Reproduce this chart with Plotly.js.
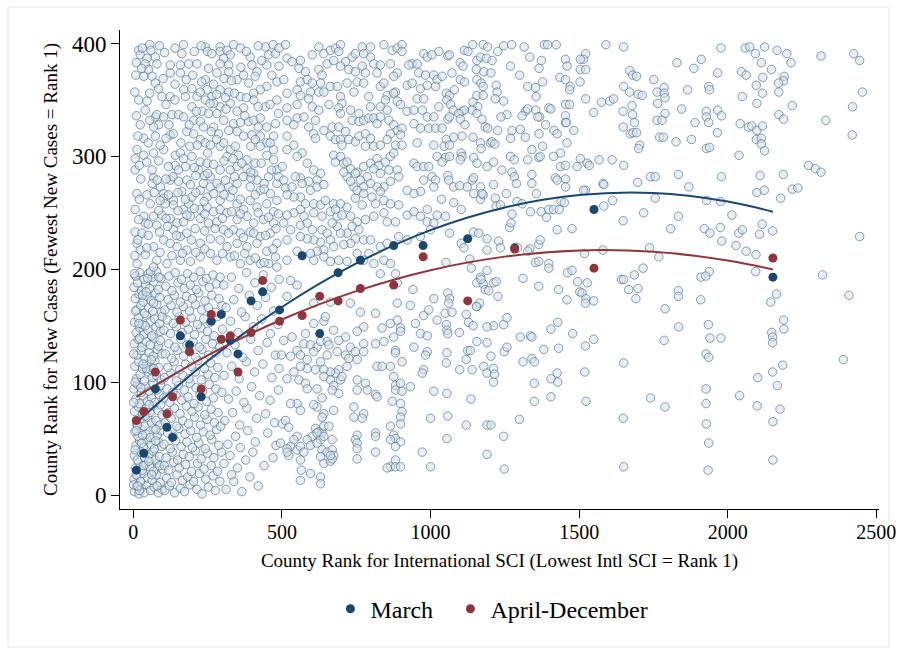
<!DOCTYPE html>
<html><head><meta charset="utf-8">
<script src="https://cdn.plot.ly/plotly-3.0.1.min.js"></script>
<style>html,body{margin:0;padding:0;background:#fff}#chart{width:897px;height:654px}</style>
</head><body><div id="chart"></div>
<script>
// County points: [international SCI rank, new-cases rank]
const countiesEast = [[1977,396],[2059,396],[2074,397],[2124,397],[2166,394],[2199,391],[2213,383],[2314,389],[2424,391],[2444,385],[1829,383],[1911,386],[1886,378],[1966,374],[2046,375],[2062,372],[2093,391],[2113,383],[2147,377],[2190,371],[2188,367],[2171,365],[2118,370],[2096,363],[2117,356],[2172,357],[2098,347],[2049,353],[2217,345],[1786,361],[1786,356],[1789,352],[1865,359],[1936,362],[1939,359],[2453,357],[2420,344],[2330,332],[2419,319],[1789,338],[1845,342],[1928,340],[1928,335],[1936,330],[1966,341],[1979,336],[1890,330],[1779,332],[2042,329],[2070,326],[2081,327],[2098,323],[2117,327],[2172,337],[2188,333],[1965,321],[1783,317],[1826,313],[1878,315],[1928,307],[1939,308],[2096,315],[2113,316],[2113,311],[2124,305],[2038,301],[2272,292],[2295,289],[2314,286],[1834,284],[1979,282],[2109,283],[2187,284],[1869,273],[2098,268],[2123,270],[2178,263],[2217,271],[2236,272],[1929,261],[1976,260],[1834,247],[2014,248],[1808,236],[1921,236],[1940,232],[1975,237],[1980,225],[2028,221],[2037,232],[2049,235],[2062,216],[2095,213],[2107,231],[2116,240],[2151,234],[2444,229],[2094,198],[1938,198],[1910,193],[1926,194],[2319,195],[1834,181],[1834,176],[1909,173],[2164,178],[2145,171],[2408,177],[1789,165],[1835,149],[1935,151],[1940,139],[1977,139],[1786,137],[2188,155],[2189,147],[2148,144],[2151,140],[2151,135],[1927,125],[1936,122],[2389,120],[2185,115],[2151,109],[2101,104],[2167,97],[1927,94],[2040,88],[1789,78],[1927,81],[2099,79],[2176,76],[2152,65],[1928,63],[1936,46],[2152,31],[1934,22]];
const countiesMidHigh = [[1142,399],[1177,399],[1192,397],[1246,398],[1273,399],[1315,397],[1383,399],[1394,399],[1423,399],[1590,399],[1650,397],[1114,394],[1126,393],[1058,389],[1064,390],[1156,385],[1168,388],[1188,387],[1207,385],[1226,393],[1334,388],[1373,385],[1454,386],[1459,380],[1522,391],[1515,386],[1504,386],[1100,383],[1109,380],[1154,377],[1179,375],[1203,374],[1072,374],[1269,380],[1300,372],[1365,378],[1504,377],[1522,377],[1670,376],[1680,372],[1693,371],[1039,371],[1100,368],[1114,366],[1156,368],[1170,365],[1177,362],[1221,363],[1224,357],[1246,349],[1327,362],[1353,361],[1377,366],[1435,370],[1454,368],[1470,362],[1468,359],[1503,366],[1650,362],[1670,357],[1699,355],[1712,354],[1751,368],[1762,357],[1053,356],[1064,354],[1055,350],[1080,359],[1156,354],[1177,354],[1218,351],[1355,353],[1522,351],[1575,348],[1603,349],[1616,351],[1678,345],[1764,347],[1067,346],[1076,341],[1143,348],[1159,344],[1140,341],[1106,340],[1114,341],[1319,340],[1327,342],[1354,341],[1367,335],[1398,343],[1405,342],[1455,346],[1468,346],[1454,336],[1454,330],[1549,339],[1648,340],[1680,337],[1686,330],[1762,332],[1058,333],[1064,335],[1095,338],[1100,333],[1116,328],[1156,338],[1173,333],[1184,326],[1192,325],[1257,337],[1237,335],[1308,336],[1361,335],[1387,328],[1415,323],[1426,320],[1457,330],[1648,326],[1672,320],[1681,321],[1693,321],[1704,310],[1700,307],[1771,317],[1039,325],[1053,315],[1078,317],[1106,318],[1143,317],[1168,312],[1170,307],[1201,312],[1207,313],[1216,311],[1226,323],[1269,316],[1274,323],[1302,324],[1319,317],[1365,320],[1377,309],[1437,303],[1459,312],[1482,323],[1046,309],[1064,310],[1103,303],[1106,300],[1050,299],[1064,300],[1039,295],[1100,297],[1145,299],[1156,294],[1190,291],[1212,295],[1240,288],[1269,300],[1282,297],[1327,297],[1341,306],[1364,299],[1369,300],[1414,300],[1437,291],[1454,292],[1493,291],[1504,298],[1527,294],[1534,292],[1567,297],[1611,297],[1650,292],[1697,277],[1740,282],[1756,282],[1058,283],[1061,279],[1078,273],[1123,273],[1098,274],[1140,279],[1145,281],[1168,273],[1173,267],[1145,267],[1212,275],[1255,267],[1274,286],[1282,282],[1289,276],[1341,284],[1341,276],[1356,267],[1420,281],[1426,279],[1454,280],[1454,273],[1515,270],[1580,276],[1583,275]];
const countiesMidLow = [[1037,262],[1078,259],[1103,253],[1168,262],[1177,266],[1218,263],[1221,256],[1235,257],[1291,260],[1308,258],[1336,251],[1372,251],[1390,246],[1398,253],[1414,253],[1433,253],[1439,260],[1450,259],[1521,270],[1583,256],[1612,261],[1648,243],[1717,250],[1756,263],[1050,247],[1064,232],[1103,223],[1112,219],[1145,233],[1162,232],[1190,227],[1190,217],[1229,225],[1235,219],[1266,237],[1271,241],[1274,249],[1293,219],[1334,218],[1364,222],[1369,226],[1398,205],[1426,235],[1476,236],[1518,214],[1580,217],[1737,219],[1768,211],[1052,206],[1132,209],[1137,201],[1190,199],[1168,193],[1156,188],[1177,187],[1170,191],[1212,188],[1221,189],[1184,182],[1196,181],[1311,192],[1327,216],[1353,206],[1364,207],[1398,201],[1461,197],[1476,199],[1495,189],[1502,180],[1510,179],[1527,188],[1523,174],[1521,170],[1549,172],[1459,173],[1431,182],[1364,185],[1227,176],[1058,179],[1064,174],[1061,170],[1049,161],[1072,162],[1120,160],[1128,153],[1143,150],[1156,167],[1165,170],[1154,167],[1212,150],[1246,151],[1257,157],[1190,149],[1642,191],[1650,191],[1686,195],[1715,201],[1667,182],[1691,174],[1698,183],[1053,151],[1055,146],[1058,143],[1097,144],[1125,128],[1134,128],[1120,120],[1140,111],[1156,136],[1190,135],[1203,123],[1179,114],[1190,108],[1212,112],[1215,107],[1212,100],[1248,127],[1257,131],[1302,140],[1336,141],[1341,140],[1311,118],[1341,121],[1349,118],[1381,129],[1405,147],[1428,153],[1431,130],[1426,108],[1428,100],[1405,103],[1349,99],[1349,83],[1405,87],[1478,143],[1521,132],[1549,138],[1519,109],[1523,83],[1650,117],[1648,68],[1740,86],[1055,126],[1053,117],[1098,111],[1055,90],[1136,85],[1058,70],[1120,62],[1190,62],[1203,62],[1246,52],[1299,67],[1055,50],[1190,36],[1248,23],[1650,25]];
const countiesCentralLow = [[529,190],[551,186],[517,176],[607,170],[663,171],[730,170],[764,162],[815,161],[831,196],[882,196],[888,188],[941,182],[932,168],[888,170],[977,159],[994,164],[1011,174],[1022,155],[888,155],[865,152],[899,148],[899,145],[837,148],[876,140],[966,143],[989,141],[949,152],[775,149],[753,145],[714,140],[674,146],[641,154],[646,158],[607,152],[579,143],[534,140],[506,137],[551,128],[574,134],[596,133],[618,131],[630,136],[652,136],[658,133],[691,137],[730,131],[747,127],[775,127],[775,134],[815,134],[843,136],[882,128],[882,126],[904,118],[944,131],[989,127],[983,124],[498,124],[529,123],[562,124],[585,120],[607,127],[630,118],[652,124],[686,127],[714,124],[725,121],[753,120],[719,114],[691,111],[680,108],[663,109],[641,111],[613,111],[585,112],[562,114],[540,109],[517,103],[557,102],[579,99],[585,94],[618,94],[641,105],[663,102],[674,97],[697,102],[702,105],[691,90],[669,93],[635,86],[618,78],[551,81],[529,81],[562,75],[607,80],[641,72],[635,69],[674,75],[742,78],[753,102],[781,99],[787,93],[820,114],[837,114],[865,114],[876,105],[882,97],[882,93],[904,92],[899,99],[932,96],[977,111],[972,108],[1011,92],[753,93],[815,89],[820,87],[742,69],[775,72],[770,68],[871,83],[899,81],[904,74],[899,69],[899,63],[865,61],[876,53],[882,50],[899,47],[815,55],[815,52],[753,53],[747,49],[753,46],[753,41],[753,32],[815,38],[865,49],[882,43],[882,31],[865,25],[882,25],[899,25],[854,24],[972,38],[1000,25],[1000,68],[613,59],[624,56],[635,55],[641,61],[658,61],[669,49],[630,49],[602,52],[585,49],[551,52],[540,49],[529,43],[517,41],[551,40],[562,43],[574,38],[523,35],[562,31],[596,44],[618,46],[635,40],[652,38],[669,40],[674,35],[630,34],[641,28],[663,30],[669,32],[517,38],[565,22],[596,19],[562,13],[630,16],[630,10],[618,55],[641,52],[663,35],[501,63],[512,66],[523,60],[495,46]];
const countiesCentralHigh = [[512,399],[562,385],[624,397],[641,391],[663,394],[680,396],[697,399],[691,393],[736,388],[747,391],[770,397],[798,397],[798,388],[843,399],[871,394],[888,396],[904,399],[904,393],[938,382],[955,382],[977,391],[989,388],[1005,390],[1028,393],[517,387],[534,384],[602,390],[652,382],[674,385],[714,384],[775,391],[809,382],[831,381],[865,382],[888,374],[557,378],[579,375],[624,377],[635,372],[697,380],[725,377],[747,375],[770,380],[781,374],[820,374],[876,371],[927,381],[960,374],[983,372],[1011,372],[1022,368],[506,368],[562,366],[585,368],[602,365],[630,365],[663,362],[686,362],[719,365],[753,366],[775,365],[831,362],[843,365],[882,357],[921,363],[938,365],[966,360],[989,363],[1017,362],[517,356],[551,359],[562,354],[596,357],[624,357],[641,357],[697,353],[702,347],[742,357],[792,353],[854,354],[876,356],[955,351],[977,351],[517,343],[551,346],[590,351],[602,344],[624,341],[658,346],[691,343],[697,338],[731,341],[759,338],[798,344],[831,344],[848,350],[854,341],[888,349],[899,346],[921,340],[944,341],[972,341],[989,335],[1011,335],[1028,344],[517,332],[551,334],[540,328],[574,335],[590,326],[613,332],[641,323],[669,326],[691,326],[714,322],[736,332],[759,331],[775,332],[792,334],[809,334],[831,335],[820,329],[860,332],[876,328],[888,323],[904,325],[865,320],[899,319],[944,329],[966,325],[994,325],[1017,325],[517,318],[540,310],[568,303],[607,320],[613,316],[663,318],[680,315],[697,315],[702,310],[725,315],[747,313],[759,318],[781,320],[798,316],[781,309],[809,309],[831,310],[854,315],[882,310],[904,310],[955,312],[1011,310],[1022,300],[517,306],[501,291],[551,300],[585,294],[607,288],[630,285],[618,279],[590,278],[562,281],[545,282],[506,279],[674,301],[680,295],[697,300],[708,294],[719,295],[731,289],[753,286],[775,291],[798,294],[820,298],[826,292],[848,295],[865,300],[876,303],[860,288],[831,285],[809,289],[787,282],[764,279],[747,285],[719,282],[708,286],[888,288],[893,282],[865,278],[843,273],[820,273],[798,276],[775,273],[742,273],[731,278],[753,270],[944,294],[955,291],[977,291],[994,291],[1005,282],[1017,279],[977,279],[1011,273],[966,269],[944,267],[921,270],[512,272],[534,273],[568,276],[596,270],[618,273],[641,275],[562,264],[540,264],[517,266],[579,258],[607,258],[630,257],[646,261],[674,258],[697,258],[719,255],[747,263],[775,267],[803,264],[831,269],[843,261],[865,258],[893,257],[815,258],[770,257],[562,253],[540,250],[517,248],[574,247],[607,250],[635,247],[663,251],[686,247],[702,248],[680,253],[731,247],[753,242],[736,238],[759,235],[719,232],[697,232],[686,238],[669,241],[781,244],[809,247],[843,250],[854,242],[882,242],[921,248],[944,251],[966,247],[989,242],[1011,241],[1022,248],[506,241],[529,235],[562,239],[585,241],[602,235],[635,235],[652,232],[663,226],[630,224],[607,226],[585,227],[562,229],[517,226],[775,226],[798,226],[747,227],[731,223],[708,222],[674,220],[641,217],[618,216],[596,214],[607,208],[641,211],[663,207],[691,208],[719,207],[517,208],[551,216],[831,220],[854,223],[893,229],[921,226],[966,229],[1000,235],[792,214],[775,208],[809,205],[843,208],[865,205],[753,214],[989,253]];
const countiesWestHigh = [[18,394],[23,390],[55,399],[59,394],[88,398],[46,387],[74,388],[10,383],[40,382],[79,382],[51,377],[35,371],[63,371],[74,365],[85,360],[96,353],[124,353],[124,374],[124,381],[158,381],[169,399],[163,391],[186,382],[158,374],[242,397],[250,393],[264,391],[292,397],[292,393],[315,394],[337,399],[326,390],[304,387],[292,382],[321,381],[321,375],[253,378],[242,368],[214,382],[281,374],[248,359],[264,353],[292,359],[321,357],[349,368],[371,372],[393,388],[399,381],[388,365],[416,375],[410,371],[444,397],[455,390],[478,391],[449,381],[466,372],[483,366],[449,362],[483,350],[427,359],[405,356],[360,353],[405,350],[444,344],[371,343],[349,340],[326,347],[292,344],[270,347],[242,350],[214,353],[197,360],[169,359],[175,353],[197,344],[231,340],[253,338],[281,338],[304,332],[337,329],[388,331],[405,332],[427,334],[449,326],[472,318],[478,329],[18,350],[46,349],[40,341],[74,335],[85,328],[79,337],[102,335],[130,337],[152,337],[169,335],[203,332],[225,331],[236,326],[270,326],[287,320],[321,323],[349,322],[371,318],[399,319],[427,318],[449,312],[472,306],[23,328],[68,326],[74,318],[35,316],[124,319],[135,320],[180,322],[203,320],[225,315],[242,312],[259,310],[292,309],[304,312],[326,306],[343,309],[354,301],[382,297],[410,294],[427,309],[449,301],[472,297],[483,288],[12,306],[6,298],[35,301],[68,303],[102,306],[141,301],[158,303],[169,298],[141,292],[175,291],[152,288],[197,300],[225,295],[248,294],[220,288],[259,282],[292,288],[326,288],[349,291],[382,289],[405,285],[416,279],[455,282],[483,276],[6,288],[63,288],[68,281],[63,276],[91,273],[102,267],[124,279],[152,278],[180,279],[192,275],[163,269],[135,261],[102,263],[57,258],[46,266],[12,267],[6,253],[35,247],[40,241],[6,233],[29,232],[68,247],[79,239],[96,248],[107,258],[135,257],[169,253],[186,258],[197,264],[225,270],[236,276],[259,273],[281,276],[292,272],[321,273],[349,276],[371,282],[393,273],[427,270],[461,267],[483,261],[248,264],[270,267],[292,261],[326,264],[349,258],[371,253],[393,261],[416,255],[449,258],[472,251],[225,253],[248,255],[270,251],[292,253],[315,250],[349,244],[382,247],[405,241],[438,244],[472,241],[225,245],[253,241],[281,242],[304,235],[337,235],[360,232],[393,233],[427,229],[461,232],[483,223],[124,245],[147,241],[169,242],[192,247],[208,236],[135,235],[158,229],[180,232],[102,226],[124,223],[147,220],[180,217],[12,223],[23,217],[40,213],[68,220],[79,208],[113,205],[158,208],[192,207],[225,223],[259,227],[292,226],[315,220],[349,223],[382,220],[416,223],[449,216],[478,211],[225,211],[259,214],[281,208],[326,211],[360,205],[393,208],[427,205],[455,205],[68,202],[12,205],[483,202],
[30,396],[105,392],[140,396],[205,393],[228,398],[360,396],[380,393],[420,398],[470,399],[490,396],[8,372],[28,378],[100,369],[140,364],[178,368],[200,372],[230,366],[270,364],[305,369],[330,367],[362,379],[432,385],[490,380],[5,357],[55,356],[110,346],[140,350],[225,357],[258,347],[280,355],[310,352],[340,356],[380,352],[420,344],[460,346],[10,336],[55,332],[120,328],[188,328],[212,340],[262,322],[312,342],[360,330],[375,336],[420,326],[488,338],[15,318],[50,312],[90,310],[110,316],[160,312],[190,309],[215,310],[250,303],[280,315],[315,300],[395,309],[410,315],[460,312],[20,292],[45,295],[85,296],[118,291],[133,282],[205,290],[240,283],[270,293],[305,296],[335,298],[365,294],[395,281],[430,294],[465,288],[25,280],[80,279],[110,280],[210,283],[250,285],[310,279],[340,282],[395,286],[440,276],[488,282],[20,262],[70,268],[90,261],[118,266],[150,268],[175,262],[210,268],[238,260],[305,266],[335,270],[360,262],[410,266],[440,271],[18,244],[50,240],[85,252],[110,245],[150,252],[180,248],[205,254],[240,249],[300,245],[330,251],[360,249],[420,250],[455,246],[488,249],[15,226],[50,230],[88,233],[115,238],[145,230],[195,226],[240,234],[275,236],[320,232],[370,228],[405,232],[445,230],[480,236],[5,212],[45,219],[90,215],[130,212],[165,214],[210,215],[240,218],[300,214],[340,212],[375,214],[410,210],[440,206],[470,218]];
const countiesWestLow = [[4,3],[11,8],[19,1],[27,6],[36,2],[45,9],[58,4],[70,7],[84,2],[96,5],[2,14],[15,17],[24,12],[33,19],[49,15],[63,13],[77,18],[91,11],[7,24],[18,29],[30,22],[41,27],[55,25],[68,21],[82,28],[99,23],[3,35],[13,31],[26,38],[38,33],[52,36],[66,39],[74,31],[88,34],[9,44],[21,48],[34,42],[46,49],[60,45],[71,41],[85,47],[95,43],[5,56],[16,52],[29,58],[42,54],[57,51],[69,59],[80,53],[93,57],[11,63],[23,67],[36,61],[48,69],[62,64],[76,66],[89,62],[4,74],[17,78],[31,72],[44,77],[56,73],[67,79],[83,75],[97,71],[8,85],[20,81],[33,88],[47,83],[61,86],[73,82],[87,89],[2,94],[14,98],[27,91],[40,96],[53,92],[66,99],[79,93],[92,97],[10,103],[23,107],[37,101],[50,109],[64,104],[78,106],[94,102],[5,114],[18,118],[31,112],[45,116],[58,111],[72,119],[86,113],[12,124],[26,128],[39,121],[53,126],[67,123],[81,129],[97,125],[3,134],[16,138],[29,131],[43,136],[57,133],[70,139],[84,132],[9,144],[22,148],[35,142],[49,146],[62,141],[76,149],[91,145],[4,153],[17,157],[30,151],[44,159],[58,154],[72,156],[88,152],[11,164],[25,168],[38,161],[52,166],[65,163],[79,169],[95,162],[6,174],[19,178],[33,171],[46,176],[60,172],[74,179],[89,175],[2,184],[14,188],[28,181],[41,186],[55,183],[69,189],[84,182],[8,194],[22,197],[36,191],[50,196],[64,193],[78,198],[93,192],
[1,9],[9,18],[20,4],[35,26],[6,40],[28,46],[14,62],[39,70],[1,82],[25,95],[6,100],[44,112],[1,125],[21,139],[40,150],[7,163],[31,177],[48,192],[15,8],[52,30],[62,18],[31,53],[75,48],[53,80],[33,116],[60,120],[19,152],[68,170],[43,180],[80,8],[88,26],[76,58],[92,80],[68,112],[90,137],[97,158],[86,193],[58,198],[10,57],[3,196],
[106,4],[121,8],[139,2],[158,6],[172,3],[190,9],[214,5],[231,1],[252,7],[276,4],[112,15],[128,11],[147,18],[165,13],[183,16],[203,12],[222,19],[244,14],[268,17],[291,12],[104,26],[119,22],[136,29],[154,24],[176,27],[195,21],[216,28],[238,23],[262,26],[283,21],[110,33],[131,38],[149,31],[168,36],[188,34],[209,39],[228,32],[249,37],[271,33],[296,38],[103,45],[124,41],[142,48],[161,43],[180,47],[199,42],[220,46],[242,41],[264,49],[287,44],[115,55],[134,52],[153,59],[174,54],[193,57],[213,51],[235,56],[258,53],[280,58],[107,64],[127,68],[146,61],[166,66],[186,63],[206,69],[226,62],[248,67],[273,64],[294,61],[118,73],[138,77],[157,72],[178,79],[197,74],[218,78],[240,71],[262,76],[285,73],[102,86],[123,82],[144,88],[163,84],[184,87],[204,81],[224,89],[246,83],[269,86],[113,94],[133,91],[152,97],[171,93],[191,99],[211,95],[233,92],[255,98],[278,94],[298,91],[105,104],[126,108],[145,101],[167,106],[187,103],[208,109],[229,102],[251,107],[274,104],[116,113],[137,118],[156,111],[175,116],[196,114],[217,119],[239,112],[260,117],[284,113],[108,125],[129,121],[148,128],[169,123],[189,127],[210,122],[231,129],[253,124],[277,126],[119,134],[140,131],[160,138],[181,133],[201,136],[222,131],[244,138],[266,134],[290,131],[103,146],[125,143],[145,149],[164,144],[185,147],[206,142],[227,148],[249,145],[272,141],[114,155],[134,152],[154,158],[176,153],[195,157],[216,151],[237,156],[259,153],[282,158],[106,164],[127,168],[147,162],[168,167],[189,163],[209,169],[230,164],[252,166],[276,162],[298,168],[117,173],[138,177],[158,171],[179,176],[199,174],[220,179],[241,172],[264,177],[288,174],[109,185],[130,181],[150,188],[171,183],[192,186],[212,182],[234,189],[256,184],[279,187],[120,194],[141,197],[162,191],[182,196],[203,193],[225,198],[246,192],[268,195],[292,193],[312,5],[338,12],[365,3],[392,16],[330,18],[420,8],[305,28],[325,35],[350,24],[378,31],[402,38],[440,26],[470,33],[318,45],[344,52],[360,42],[385,57],[410,47],[452,55],[480,44],[308,66],[334,73],[358,62],[382,77],[415,68],[445,72],[475,64],[320,85],[346,92],[372,82],[398,96],[425,88],[460,84],[488,93],[305,106],[331,114],[356,103],[380,118],[408,109],[436,116],[466,104],[490,112],[315,126],[342,133],[368,122],[395,138],[420,128],[450,135],[478,124],[300,147],[327,154],[352,144],[376,158],[404,149],[432,156],[461,143],[487,151],[312,166],[338,173],[364,162],[390,177],[417,168],[445,175],[472,163],[304,186],[330,193],[355,183],[381,197],[409,188],[437,195],[464,184],[491,191]];

// Binned means
const binSciRank = [10,35,74,113,132,158,189,228,262,296,326,352,396,435,492,568,627,689,764,876,975,1125,1283,1550,2152];
const marchRank  = [22,37,94,60,51,141,133,87,154,160,137,125,172,180,164,212,143,197,208,221,221,227,219,253,193];
const aprDecRank = [66,74,109,72,87,155,127,94,160,138,141,109,144,190,154,159,176,172,183,186,211,172,218,201,210];

// Quadratic fit lines
const fitSciRank = [10,250,500,750,1000,1250,1500,1750,2000,2152];
const marchFit   = [64,118.7,166.6,205.2,234.7,254.8,265.8,267.6,260.1,251];
const aprDecFit  = [87,123.7,155.5,180.6,199.2,211.2,216.7,215.5,207.8,199.8];

const xTicks = [0,500,1000,1500,2000,2500];
const yTicks = [0,100,200,300,400];
const seriesNames = ['March','April-December'];

const counties = [].concat(countiesWestLow, countiesWestHigh, countiesCentralLow, countiesCentralHigh, countiesMidLow, countiesMidHigh, countiesEast);

const NAVY = '#1a476f', MAROON = '#90353b';
const FONT = '"Liberation Serif", "Times New Roman", serif';

const traces = [
  {type:'scatter', mode:'markers', x:counties.map(p=>p[0]), y:counties.map(p=>p[1]), showlegend:false, hoverinfo:'skip',
   marker:{size:8.5, color:'rgba(212,225,235,0.55)', line:{color:'rgba(62,95,130,0.58)', width:1}}},
  {type:'scatter', mode:'lines', x:fitSciRank, y:marchFit, line:{color:NAVY, width:2, shape:'spline'}, showlegend:false},
  {type:'scatter', mode:'lines', x:fitSciRank, y:aprDecFit, line:{color:MAROON, width:2, shape:'spline'}, showlegend:false},
  {type:'scatter', mode:'markers', name:seriesNames[0], legendwidth:75, x:binSciRank, y:marchRank, marker:{size:9, color:NAVY}},
  {type:'scatter', mode:'markers', name:seriesNames[1], x:binSciRank, y:aprDecRank, marker:{size:9, color:MAROON}}
];

const layout = {
  width:897, height:654,
  margin:{l:120, r:18, t:30, b:145},
  paper_bgcolor:'#fff', plot_bgcolor:'#fff',
  font:{family:FONT, color:'#000'},
  showlegend:true,
  legend:{orientation:'h', x:0.49, xanchor:'center', y:-0.209, yanchor:'middle', font:{size:24, family:FONT, color:'#000'}, bgcolor:'rgba(0,0,0,0)'},
  xaxis:{range:[-45,2509], tickvals:xTicks, ticktext:xTicks.map(String), ticks:'outside', ticklen:8, tickcolor:'#000', tickwidth:1,
    showline:true, linecolor:'#000', linewidth:1, showgrid:false, zeroline:false, ticklabelstandoff:-3,
    tickfont:{size:20, family:FONT, color:'#000'},
    title:{text:'County Rank for International SCI (Lowest Intl SCI = Rank 1)', font:{size:19, family:FONT, color:'#000'}, standoff:11}},
  yaxis:{range:[-12.4,412], tickvals:yTicks, ticktext:yTicks.map(String), ticks:'outside', ticklen:8, tickcolor:'#000', tickwidth:1,
    showline:true, linecolor:'#000', linewidth:1, showgrid:false, zeroline:false,
    tickfont:{size:23, family:FONT, color:'#000'},
    title:{text:'County Rank for New Cases (Fewest New Cases = Rank 1)', font:{size:19, family:FONT, color:'#000'}, standoff:9}},
  shapes:[{type:'rect', xref:'paper', yref:'paper', x0:-0.1476, x1:1.0132, y0:-0.288, y1:1.048, line:{color:'#e4e4e4', width:1}, fillcolor:'rgba(0,0,0,0)', layer:'below'}]
};

Plotly.newPlot('chart', traces, layout, {displayModeBar:false, staticPlot:true});
</script>
</body></html>
